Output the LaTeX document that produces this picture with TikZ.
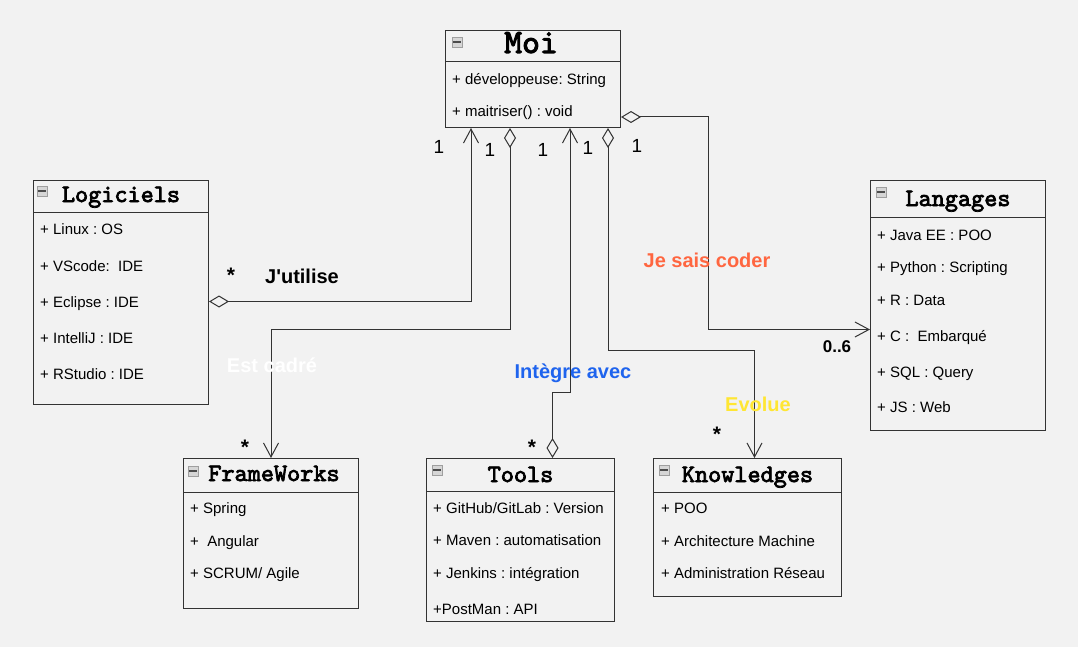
\documentclass[tikz,border=0pt]{standalone}
\usepackage{fontspec}
\setmainfont{Liberation Sans}
\newfontfamily\umlmono{lmmono10-regular.otf}[FakeBold=3]
\usetikzlibrary{arrows.meta}
\frenchspacing

\definecolor{bg}{HTML}{F2F2F2}
\definecolor{umlline}{HTML}{333333}
\definecolor{coderred}{HTML}{FF6640}
\definecolor{integblue}{HTML}{1F64EE}
\definecolor{evolyellow}{HTML}{FFE633}
\definecolor{icongray}{HTML}{D6D6D6}

\tikzset{
  classbox/.style={draw=umlline, fill=bg, line width=1pt, inner sep=0pt, anchor=north west},
  headline/.style={draw=umlline, line width=1pt},
  classtitle/.style={font=\umlmono\fontsize{25}{25}\selectfont, inner sep=0pt, anchor=base},
  member/.style={font=\fontsize{15}{18}\selectfont, inner sep=0pt, anchor=base west},
  icon/.style={draw=gray!75, fill=icongray, minimum size=10pt, inner sep=0pt, line width=0.6pt},
  iconbar/.style={draw=black!70, line width=1.5pt, shorten >=1.5pt, shorten <=1.5pt},
  assoc/.style={draw=umlline, line width=1pt,
    {Diamond[fill=bg, length=20pt, width=12pt]}-{Straight Barb[length=14pt, width=15pt]}},
  mult/.style={font=\fontsize{19}{19}\selectfont, inner sep=0pt},
  star/.style={font=\bfseries\fontsize{21}{21}\selectfont, inner sep=0pt, anchor=base},
  rolename/.style={font=\bfseries\fontsize{20}{20}\selectfont, inner sep=0pt, anchor=base}
}

\begin{document}
\begin{tikzpicture}[x=1pt, y=-1pt]
  \fill[bg] (0,0) rectangle (1078,647);
  \useasboundingbox (0,0) rectangle (1078,647);

  % Moi
  \node[classbox, minimum width=175pt, minimum height=97pt] (moi) at (445,30) {};
  \draw[headline] ([shift={(0,32)}]moi.north west) -- ([shift={(0,32)}]moi.north east);
  \node[classtitle, font=\umlmono\fontsize{34}{34}\selectfont] (moi-title) at ([shift={(-2,23)}]moi.north) {Moi};
  \node[icon] (moi-icon) at ([shift={(12,12)}]moi.north west) {};
  \draw[iconbar] (moi-icon.west) -- (moi-icon.east);
  \foreach \y/\t [count=\i] in {55/{+ développeuse: String}, 87/{+ maitriser() : void}}
    \node[member] (moi-\i) at ([shift={(7,\y)}]moi.north west) {\t};

  % Logiciels
  \node[classbox, minimum width=175pt, minimum height=224pt] (logiciels) at (33,180) {};
  \draw[headline] ([shift={(0,32)}]logiciels.north west) -- ([shift={(0,32)}]logiciels.north east);
  \node[classtitle] (logiciels-title) at ([shift={(0,22)}]logiciels.north) {Logiciels};
  \node[icon] (logiciels-icon) at ([shift={(9,11)}]logiciels.north west) {};
  \draw[iconbar] (logiciels-icon.west) -- (logiciels-icon.east);
  \foreach \y/\t [count=\i] in {54/{+ Linux : OS}, 91/{+ VScode:~ IDE}, 127/{+ Eclipse : IDE},
      163/{+ IntelliJ : IDE}, 199/{+ RStudio : IDE}}
    \node[member] (logiciels-\i) at ([shift={(7,\y)}]logiciels.north west) {\t};

  % Langages
  \node[classbox, minimum width=175pt, minimum height=250pt] (langages) at (870,180) {};
  \draw[headline] ([shift={(0,37)}]langages.north west) -- ([shift={(0,37)}]langages.north east);
  \node[classtitle] (langages-title) at ([shift={(0,26)}]langages.north) {Langages};
  \node[icon] (langages-icon) at ([shift={(11,12)}]langages.north west) {};
  \draw[iconbar] (langages-icon.west) -- (langages-icon.east);
  \foreach \y/\t [count=\i] in {60/{+ Java EE : POO}, 92/{+ Python : Scripting}, 125/{+ R : Data},
      161/{+ C :~ Embarqué}, 197/{+ SQL : Query}, 232/{+ JS : Web}}
    \node[member] (langages-\i) at ([shift={(7,\y)}]langages.north west) {\t};

  % FrameWorks
  \node[classbox, minimum width=175pt, minimum height=150pt] (frameworks) at (183,458) {};
  \draw[headline] ([shift={(0,34)}]frameworks.north west) -- ([shift={(0,34)}]frameworks.north east);
  \node[classtitle] (frameworks-title) at ([shift={(3,23)}]frameworks.north) {FrameWorks};
  \node[icon] (frameworks-icon) at ([shift={(10,13)}]frameworks.north west) {};
  \draw[iconbar] (frameworks-icon.west) -- (frameworks-icon.east);
  \foreach \y/\t [count=\i] in {55/{+ Spring}, 88/{+~ Angular}, 120/{+ SCRUM/ Agile}}
    \node[member] (frameworks-\i) at ([shift={(7,\y)}]frameworks.north west) {\t};

  % Tools
  \node[classbox, minimum width=188pt, minimum height=163pt] (tools) at (426,458) {};
  \draw[headline] ([shift={(0,33)}]tools.north west) -- ([shift={(0,33)}]tools.north east);
  \node[classtitle] (tools-title) at ([shift={(0,24)}]tools.north) {Tools};
  \node[icon] (tools-icon) at ([shift={(11,12)}]tools.north west) {};
  \draw[iconbar] (tools-icon.west) -- (tools-icon.east);
  \foreach \y/\t [count=\i] in {55/{+ GitHub/GitLab : Version}, 87/{+ Maven : automatisation},
      120/{+ Jenkins : intégration}, 156/{+PostMan : API}}
    \node[member] (tools-\i) at ([shift={(7,\y)}]tools.north west) {\t};

  % Knowledges
  \node[classbox, minimum width=188pt, minimum height=138pt] (knowledges) at (653,458) {};
  \draw[headline] ([shift={(0,34)}]knowledges.north west) -- ([shift={(0,34)}]knowledges.north east);
  \node[classtitle] (knowledges-title) at ([shift={(0,24)}]knowledges.north) {Knowledges};
  \node[icon] (knowledges-icon) at ([shift={(11,12)}]knowledges.north west) {};
  \draw[iconbar] (knowledges-icon.west) -- (knowledges-icon.east);
  \foreach \y/\t [count=\i] in {55/{+ POO}, 88/{+ Architecture Machine}, 120/{+ Administration Réseau}}
    \node[member] (knowledges-\i) at ([shift={(8,\y)}]knowledges.north west) {\t};

  % associations
  \draw[assoc] ([shift={(0,9)}]logiciels.east) -| ([shift={(26,0)}]moi.south west);
  \draw[assoc] ([shift={(65,0)}]moi.south west) -- ++(0,201) -| (frameworks.north);
  \draw[assoc] ([shift={(32,0)}]tools.north) -- ++(0,-66) -| ([shift={(125,0)}]moi.south west);
  \draw[assoc] ([shift={(163,0)}]moi.south west) -- ++(0,222) -| ([shift={(7,0)}]knowledges.north);
  \draw[assoc] ([shift={(0,87)}]moi.north east) -- ++(87,0) |- ([shift={(0,24)}]langages.west);

  % multiplicities
  \node[mult] (m-logiciels) at (439,147) {1};
  \node[mult] (m-frameworks) at (490,150) {1};
  \node[mult] (m-tools) at (543,150) {1};
  \node[mult] (m-knowledges) at (588,148) {1};
  \node[mult] (m-langages) at (637,146) {1};
  \node[star] (s-logiciels) at (231,282) {*};
  \node[star] (s-frameworks) at (245,454) {*};
  \node[star] (s-tools) at (532,454) {*};
  \node[star] (s-knowledges) at (717,441) {*};
  \node[mult, font=\bfseries\fontsize{17}{17}\selectfont] (s-langages) at (837,347) {0..6};

  % role names
  \node[rolename] (r-logiciels) at (302,283) {J\textquotesingle utilise};
  \node[rolename, text=white] (r-frameworks) at (272,372) {Est cadré};
  \node[rolename, text=integblue] (r-tools) at (573,378) {Intègre avec};
  \node[rolename, text=evolyellow] (r-knowledges) at (758,411) {Evolue};
  \node[rolename, text=coderred] (r-langages) at (707,267) {Je sais coder};
\end{tikzpicture}
\end{document}
